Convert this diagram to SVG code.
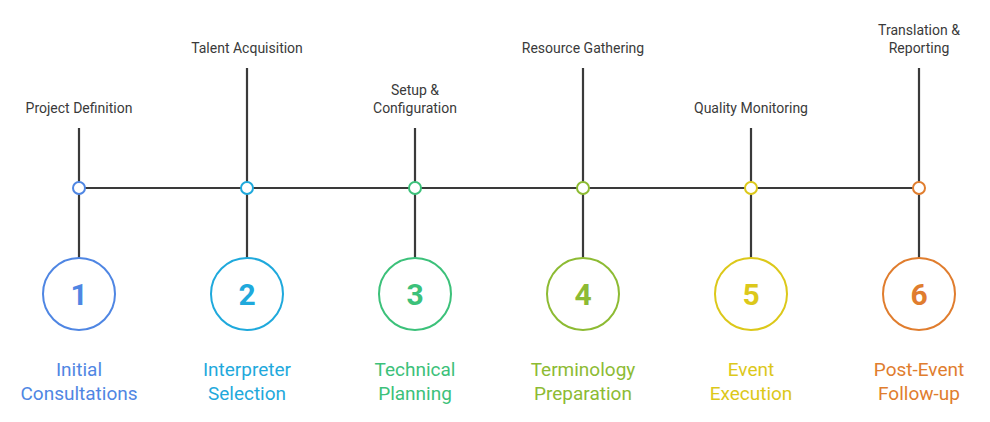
<svg xmlns="http://www.w3.org/2000/svg" width="990" height="422" viewBox="0 0 990 422">
<style>
.ln{stroke:#3a3a3a;stroke-width:2.2;fill:none}
.top{font-family:Roboto,"Liberation Sans",sans-serif;font-size:14px;fill:#3a3a3a;text-anchor:middle}
.num{font-family:Roboto,"Liberation Sans",sans-serif;font-size:30px;font-weight:bold;text-anchor:middle}
.bot{font-family:Roboto,"Liberation Sans",sans-serif;font-size:19px;text-anchor:middle}
.c{fill:#fff;stroke-width:2}
</style>
<rect width="990" height="422" fill="#fff"/>
<g id="connectors">
<line class="ln" x1="79" y1="188" x2="919" y2="188"/>
<line class="ln" x1="79" y1="128" x2="79" y2="258"/>
<line class="ln" x1="247" y1="68" x2="247" y2="258"/>
<line class="ln" x1="415" y1="128" x2="415" y2="258"/>
<line class="ln" x1="583" y1="68" x2="583" y2="258"/>
<line class="ln" x1="751" y1="128" x2="751" y2="258"/>
<line class="ln" x1="919" y1="68" x2="919" y2="258"/>
</g>
<g id="n1" fill="#4f86e3" stroke="#4f86e3">
<text class="top" x="79" y="113" stroke="none">Project Definition</text>
<circle class="c" cx="79" cy="188" r="6"/><circle class="c" cx="79" cy="294" r="36"/>
<text class="num" x="79" y="305" stroke="none">1</text>
<text class="bot" x="79" y="376" stroke="none">Initial</text><text class="bot" x="79" y="400" stroke="none">Consultations</text>
</g>
<g id="n2" fill="#1fa9dc" stroke="#1fa9dc">
<text class="top" x="247" y="53" stroke="none">Talent Acquisition</text>
<circle class="c" cx="247" cy="188" r="6"/><circle class="c" cx="247" cy="294" r="36"/>
<text class="num" x="247" y="305" stroke="none">2</text>
<text class="bot" x="247" y="376" stroke="none">Interpreter</text><text class="bot" x="247" y="400" stroke="none">Selection</text>
</g>
<g id="n3" fill="#3cc17a" stroke="#3cc17a">
<text class="top" x="415" y="95" stroke="none">Setup &amp;</text><text class="top" x="415" y="113" stroke="none">Configuration</text>
<circle class="c" cx="415" cy="188" r="6"/><circle class="c" cx="415" cy="294" r="36"/>
<text class="num" x="415" y="305" stroke="none">3</text>
<text class="bot" x="415" y="376" stroke="none">Technical</text><text class="bot" x="415" y="400" stroke="none">Planning</text>
</g>
<g id="n4" fill="#8dbb33" stroke="#8dbb33">
<text class="top" x="583" y="53" stroke="none">Resource Gathering</text>
<circle class="c" cx="583" cy="188" r="6"/><circle class="c" cx="583" cy="294" r="36"/>
<text class="num" x="583" y="305" stroke="none">4</text>
<text class="bot" x="583" y="376" stroke="none">Terminology</text><text class="bot" x="583" y="400" stroke="none">Preparation</text>
</g>
<g id="n5" fill="#dcc81a" stroke="#dcc81a">
<text class="top" x="751" y="113" stroke="none">Quality Monitoring</text>
<circle class="c" cx="751" cy="188" r="6"/><circle class="c" cx="751" cy="294" r="36"/>
<text class="num" x="751" y="305" stroke="none">5</text>
<text class="bot" x="751" y="376" stroke="none">Event</text><text class="bot" x="751" y="400" stroke="none">Execution</text>
</g>
<g id="n6" fill="#e07d2e" stroke="#e07d2e">
<text class="top" x="919" y="35" stroke="none">Translation &amp;</text><text class="top" x="919" y="53" stroke="none">Reporting</text>
<circle class="c" cx="919" cy="188" r="6"/><circle class="c" cx="919" cy="294" r="36"/>
<text class="num" x="919" y="305" stroke="none">6</text>
<text class="bot" x="919" y="376" stroke="none">Post-Event</text><text class="bot" x="919" y="400" stroke="none">Follow-up</text>
</g>
</svg>
